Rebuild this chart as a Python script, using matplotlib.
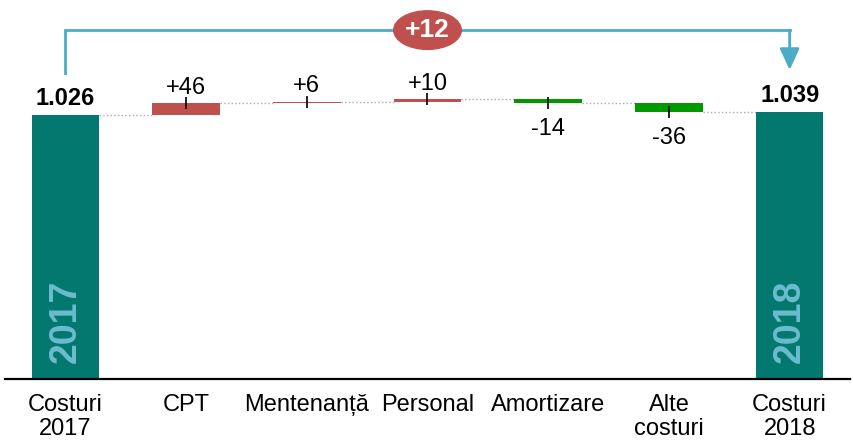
import numpy as np
import matplotlib
matplotlib.use("Agg")
import matplotlib.pyplot as plt
from matplotlib.patches import Ellipse

plt.rcParams['font.family'] = ['Liberation Sans', 'DejaVu Sans']

categories = ["Costuri\n2017", "CPT", "Mentenanță", "Personal", "Amortizare",
              "Alte\ncosturi", "Costuri\n2018"]
start_total = 1026
end_total = 1039
deltas = [46, 6, 10, -14, -36]
total_change = "+12"
years = ["2017", "2018"]

teal = "#03786E"
year_clr = "#6BBCCE"
red = "#C0504D"
green = "#009A00"
blue = "#4BACC6"

fig = plt.figure(figsize=(8.54, 4.47), dpi=100)
ax = fig.add_axes([5 / 854, 68 / 447, 845 / 854, 379 / 447])
w = 0.56
n = len(categories)

# totals
ax.bar([0, n - 1], [start_total, end_total], width=w, color=teal, zorder=2)
for xi, val, yr in zip([0, n - 1], [start_total, end_total], years):
    ax.annotate(f"{val / 1000:.3f}", (xi, val), xytext=(0, 12),
                textcoords="offset points", ha="center", va="center",
                fontsize=17, fontweight="bold")
    ax.text(xi, 62, yr, rotation=90, ha="center", va="bottom", color=year_clr,
            fontsize=27, fontweight="bold", zorder=3)

# deltas
level = start_total
prev_right = 0 + w / 2
for i, d in enumerate(deltas, start=1):
    new = level + d
    clr = red if d > 0 else green
    ax.plot([prev_right, i - w / 2], [level, level], ls=":", color="#AAAAAA",
            lw=1, zorder=1)
    ax.bar(i, abs(d), bottom=min(level, new), width=w, color=clr, zorder=2)
    ax.plot(i, new, marker="|", color="black", ms=8, mew=1.2, zorder=3)
    off = 11 if d > 0 else -19
    ax.annotate(f"{d:+d}", (i, new), xytext=(0, off),
                textcoords="offset points", ha="center", va="center",
                fontsize=17)
    level = new
    prev_right = i + w / 2
ax.plot([prev_right, n - 1 - w / 2], [level, level], ls=":", color="#AAAAAA",
        lw=1, zorder=1)

# bracket with arrow
ytop = 1473
bracket_y = 1356
ax.plot([0, 0, n - 1], [1189, bracket_y, bracket_y], color=blue, lw=2,
        solid_joinstyle="miter", clip_on=False)
ax.annotate("", xy=(n - 1, 1201), xytext=(n - 1, bracket_y),
            arrowprops=dict(arrowstyle="-|>,head_length=1.3,head_width=0.6",
                            color=blue, lw=2, shrinkA=0, shrinkB=0,
                            mutation_scale=10))
ell = Ellipse(((n - 1) / 2, bracket_y), 0.56, 150, color=red, zorder=4)
ax.add_patch(ell)
ax.text((n - 1) / 2, bracket_y, total_change, ha="center", va="center",
        color="white", fontsize=19, fontweight="bold", zorder=5)

ax.set_xlim(-0.5, n - 0.5)
ax.set_ylim(0, ytop)
ax.set_xticks(range(n))
ax.set_xticklabels(categories, fontsize=17, linespacing=1.12)
ax.tick_params(axis="x", length=0, pad=11)
ax.set_yticks([])
for s in ["top", "left", "right"]:
    ax.spines[s].set_visible(False)
ax.spines["bottom"].set_linewidth(1.6)

fig.savefig("out.png", dpi=100)
